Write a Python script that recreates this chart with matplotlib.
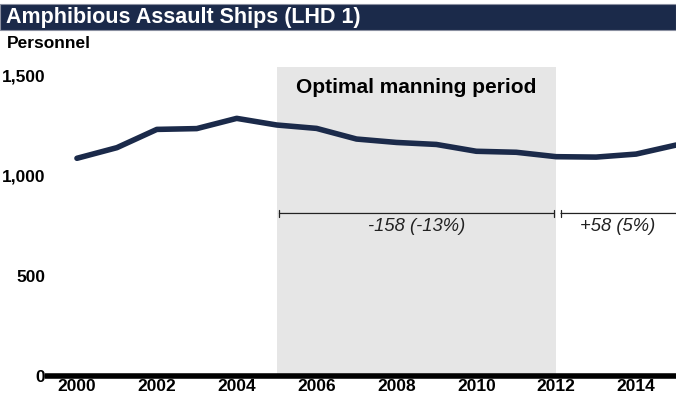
import matplotlib.pyplot as plt
import matplotlib.patches as patches

plt.rcParams['font.family'] = ['Liberation Sans', 'DejaVu Sans']

# 데이터
years = [2000, 2001, 2002, 2003, 2004, 2005, 2006, 2007,
         2008, 2009, 2010, 2011, 2012, 2013, 2014, 2015]
personnel = [1085, 1138, 1229, 1233, 1284, 1251, 1234, 1181,
             1164, 1154, 1120, 1115, 1093, 1091, 1106, 1151]
year_ticks = [2000, 2002, 2004, 2006, 2008, 2010, 2012, 2014]
y_ticks = [0, 500, 1000, 1500]
y_labels = ['0', '500', '1,000', '1,500']
period_start, period_end = 2005, 2012
change_labels = ['-158 (-13%)', '+58 (5%)']

navy = '#1b2a4a'

fig = plt.figure(figsize=(6.76, 4.04), dpi=100)

# 제목 띠
fig.patches.append(patches.Rectangle((0, 1 - 30 / 404), 1, 26 / 404,
                                     transform=fig.transFigure,
                                     facecolor=navy, edgecolor='#8a8fa0', lw=0.8))
fig.text(6 / 676, 1 - 17 / 404, 'Amphibious Assault Ships (LHD 1)',
         color='white', fontsize=15.5, fontweight='bold', va='center', ha='left')
fig.text(7 / 676, 1 - 44 / 404, 'Personnel', fontsize=12.5,
         fontweight='bold', va='center', ha='left')

ax = fig.add_axes([45 / 676, 28 / 404, 631 / 676, 309 / 404])
ax.set_xlim(1999.2, 2015)
ax.set_ylim(0, 1540)

# 최적 인원 기간 음영
ax.axvspan(period_start, period_end, color='#e6e6e6', lw=0, zorder=0)
ax.text((period_start + period_end) / 2, 1440, 'Optimal manning period',
        ha='center', va='center', fontsize=15, fontweight='bold')

ax.plot(years, personnel, color=navy, lw=4, solid_joinstyle='round',
        solid_capstyle='round', zorder=3)

# 변화량 구간 표시
bar_y = 810
ax.annotate('', xy=(period_start + 0.07, bar_y), xytext=(period_end - 0.05, bar_y),
            arrowprops=dict(arrowstyle='|-|', mutation_scale=2.5, lw=0.9,
                            color='#222222', shrinkA=0, shrinkB=0))
ax.annotate('', xy=(period_end + 0.12, bar_y), xytext=(2015.5, bar_y),
            arrowprops=dict(arrowstyle='|-|', mutation_scale=2.5, lw=0.9,
                            color='#222222', shrinkA=0, shrinkB=0))
ax.text((period_start + period_end) / 2, 745, change_labels[0], ha='center',
        va='center', fontsize=13.2, style='italic', color='#222222')
ax.text(2013.55, 745, change_labels[1], ha='center',
        va='center', fontsize=13.2, style='italic', color='#222222')

ax.axhline(0, color='black', lw=4, zorder=4, clip_on=False, solid_capstyle='butt')

for s in ax.spines.values():
    s.set_visible(False)
ax.set_xticks(year_ticks)
ax.set_xticklabels([str(y) for y in year_ticks], fontsize=12.5, fontweight='bold')
ax.set_yticks(y_ticks)
ax.set_yticklabels(y_labels, fontsize=12.5, fontweight='bold')
ax.tick_params(axis='both', length=0)
ax.tick_params(axis='x', pad=2)
ax.tick_params(axis='y', pad=0)

fig.savefig('out.png', dpi=100)
